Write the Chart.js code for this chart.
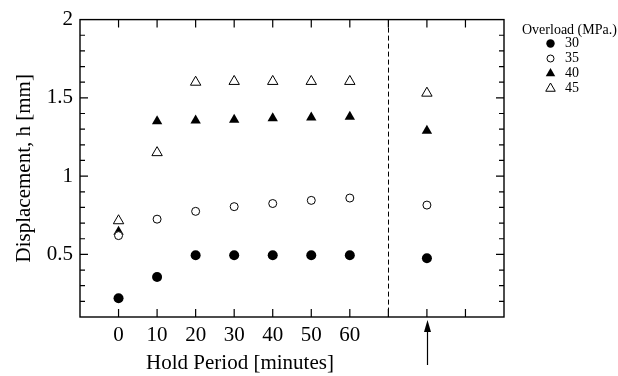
<!DOCTYPE html>
<html>
<head>
<meta charset="utf-8">
<script src="https://cdn.jsdelivr.net/npm/chart.js@4"></script>
<style>
  html, body { margin: 0; padding: 0; background: #fff; }
  #wrap { width: 618px; height: 376px; }
</style>
</head>
<body>
<div id="wrap"><canvas id="grafico"></canvas></div>
<script>
  // dados
  const holdMinutes = [0, 10, 20, 30, 40, 50, 60, 80];
  const load30 = [0.22, 0.355, 0.495, 0.495, 0.495, 0.495, 0.495, 0.475];
  const load35 = [0.62, 0.725, 0.775, 0.805, 0.825, 0.845, 0.86, 0.815];
  const load40 = [0.645, 1.35, 1.355, 1.36, 1.37, 1.375, 1.38, 1.29];
  const load45 = [0.715, 1.15, 1.6, 1.605, 1.605, 1.605, 1.605, 1.53];
  const xTickLabels = [0, 10, 20, 30, 40, 50, 60];
  const yTickLabels = [0.5, 1, 1.5, 2];
  const loadNames = ["30", "35", "40", "45"];

  const serif = "'Liberation Serif', 'Times New Roman', serif";

  function pontos(valores) {
    return holdMinutes.map((x, i) => ({ x: x, y: valores[i] }));
  }

  const estilos = [
    { pointStyle: "circle", radius: 5, backgroundColor: "#000", borderColor: "#000", borderWidth: 0 },
    { pointStyle: "circle", radius: 4, backgroundColor: "#fff", borderColor: "#000", borderWidth: 1 },
    { pointStyle: "triangle", radius: 6, backgroundColor: "#000", borderColor: "#000", borderWidth: 0 },
    { pointStyle: "triangle", radius: 6, backgroundColor: "#fff", borderColor: "#000", borderWidth: 1 },
  ];

  const series = [load30, load35, load40, load45];

  const dados = {
    datasets: series.map((s, i) => ({
      label: loadNames[i],
      data: pontos(s),
      showLine: false,
      pointStyle: estilos[i].pointStyle,
      pointRadius: estilos[i].radius,
      pointBackgroundColor: estilos[i].backgroundColor,
      pointBorderColor: estilos[i].borderColor,
      pointBorderWidth: estilos[i].borderWidth,
    })),
  };

  // moldura, ticks para dentro, linha tracejada, seta e legenda
  const extras = {
    id: "extras",
    beforeDatasetsDraw(chart) {
      const ctx = chart.ctx;
      const a = chart.chartArea;
      const xs = chart.scales.x;
      const ys = chart.scales.y;
      ctx.save();
      ctx.strokeStyle = "#000";
      ctx.lineWidth = 1.4;
      ctx.strokeRect(a.left, a.top, a.right - a.left, a.bottom - a.top);

      ctx.lineWidth = 1.2;
      ctx.beginPath();
      for (let v = 0; v <= 90; v += 10) {
        const px = xs.getPixelForValue(v);
        ctx.moveTo(px, a.bottom);
        ctx.lineTo(px, a.bottom - 8);
        ctx.moveTo(px, a.top);
        ctx.lineTo(px, a.top + 8);
      }
      for (let k = 1; k < 19; k++) {
        const v = 0.1 + k * 0.1;
        const py = ys.getPixelForValue(v);
        const major = Math.abs(v * 2 - Math.round(v * 2)) < 1e-6;
        const len = major ? 8 : 5;
        ctx.moveTo(a.left, py);
        ctx.lineTo(a.left + len, py);
        ctx.moveTo(a.right, py);
        ctx.lineTo(a.right - len, py);
      }
      ctx.stroke();

      // linha tracejada em 70
      const xd = Math.round(xs.getPixelForValue(70)) + 0.5;
      ctx.setLineDash([5, 3]);
      ctx.lineWidth = 1;
      ctx.beginPath();
      ctx.moveTo(xd, a.top);
      ctx.lineTo(xd, a.bottom);
      ctx.stroke();
      ctx.restore();
    },
    afterDraw(chart) {
      const ctx = chart.ctx;
      const a = chart.chartArea;
      const xs = chart.scales.x;
      ctx.save();
      ctx.fillStyle = "#000";
      ctx.strokeStyle = "#000";

      // seta
      const xa = Math.round(xs.getPixelForValue(80)) + 0.5;
      ctx.lineWidth = 1.2;
      ctx.beginPath();
      ctx.moveTo(xa, a.bottom + 48);
      ctx.lineTo(xa, a.bottom + 12);
      ctx.stroke();
      ctx.beginPath();
      ctx.moveTo(xa, a.bottom + 3);
      ctx.lineTo(xa - 3.5, a.bottom + 15);
      ctx.lineTo(xa + 3.5, a.bottom + 15);
      ctx.closePath();
      ctx.fill();

      // título do eixo x, centrado sob 0..60
      ctx.font = "21px " + serif;
      ctx.textAlign = "center";
      ctx.textBaseline = "middle";
      const xc = (xs.getPixelForValue(-5.5) + xs.getPixelForValue(68.5)) / 2;
      ctx.fillText("Hold Period [minutes]", xc, 363);

      // legenda
      ctx.font = "14px " + serif;
      ctx.textAlign = "left";
      ctx.fillText("Overload (MPa.)", 522, 30);
      chart.data.datasets.forEach((ds, i) => {
        const cy = 43.5 + i * 15;
        const cx = 550.5;
        ctx.fillStyle = ds.pointBackgroundColor;
        ctx.strokeStyle = ds.pointBorderColor;
        ctx.lineWidth = 1;
        ctx.beginPath();
        if (ds.pointStyle === "circle") {
          ctx.arc(cx, cy, ds.pointBorderWidth ? 3.5 : 4.2, 0, Math.PI * 2);
        } else {
          const r = 5.5;
          ctx.moveTo(cx, cy - r);
          ctx.lineTo(cx + r * 0.866, cy + r * 0.5);
          ctx.lineTo(cx - r * 0.866, cy + r * 0.5);
          ctx.closePath();
        }
        ctx.fill();
        if (ds.pointBorderWidth) ctx.stroke();
        ctx.fillStyle = "#000";
        ctx.fillText(ds.label, 565, cy);
      });
      ctx.restore();
    },
  };

  const config = {
    type: "scatter",
    data: dados,
    options: {
      responsive: true,
      maintainAspectRatio: false,
      animation: false,
      layout: { padding: { left: 0, top: 16, right: 114, bottom: 0 } },
      plugins: { legend: { display: false }, tooltip: { enabled: false } },
      scales: {
        x: {
          type: "linear",
          min: -10,
          max: 100,
          grid: { display: false, drawTicks: false, tickLength: 0 },
          border: { display: false },
          afterFit(scale) { scale.height = 59; },
          ticks: {
            stepSize: 10,
            autoSkip: false,
            maxRotation: 0,
            padding: 6,
            color: "#000",
            font: { family: serif, size: 21 },
            callback: (v) => (xTickLabels.includes(v) ? String(v) : ""),
          },
        },
        y: {
          min: 0.1,
          max: 2,
          grid: { display: false, drawTicks: false, tickLength: 0 },
          border: { display: false },
          afterFit(scale) { scale.width = 80; },
          title: {
            display: true,
            text: "Displacement, h [mm]",
            color: "#000",
            font: { family: serif, size: 21 },
            padding: { top: 12, bottom: 0 },
          },
          ticks: {
            stepSize: 0.1,
            autoSkip: false,
            padding: 7,
            color: "#000",
            font: { family: serif, size: 21 },
            callback: (v) => {
              const r = Math.round(v * 10) / 10;
              return yTickLabels.includes(r) ? String(r) : "";
            },
          },
        },
      },
    },
    plugins: [extras],
  };

  const grafico = new Chart(document.getElementById("grafico"), config);
</script>
</body>
</html>
